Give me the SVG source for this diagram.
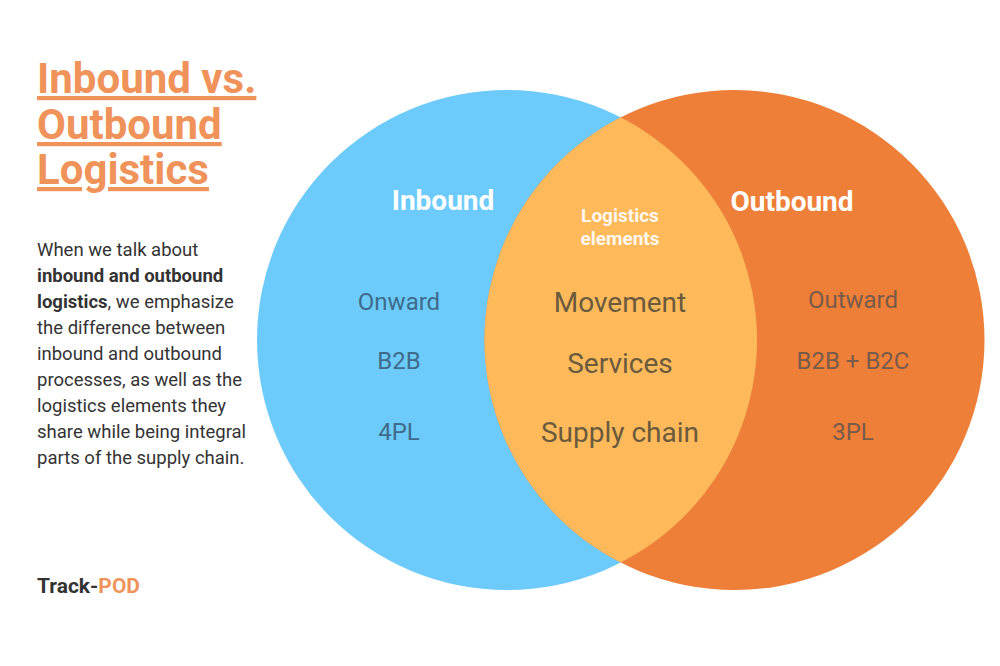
<svg xmlns="http://www.w3.org/2000/svg" width="1000" height="666" viewBox="0 0 1000 666">
<style>
text{font-family:Roboto,"Liberation Sans",sans-serif}
.title{font-size:42px;font-weight:700;fill:#F0935A;text-decoration:underline}
.body{font-size:18.5px;fill:#333}
.b{font-weight:700}
.head{font-size:28px;font-weight:700;fill:#fff;text-anchor:middle}
.sub{font-size:19px;font-weight:700;fill:#fff;text-anchor:middle;opacity:0.9}
.lbl{font-size:24px;text-anchor:middle}
.mid{font-size:28px;text-anchor:middle;fill:#6a5a3e}
</style>
<defs>
<clipPath id="lc"><circle cx="507" cy="340" r="250"/></clipPath>
</defs>
<rect width="1000" height="666" fill="#fff"/>
<g id="title">
<text class="title" x="37" y="93">Inbound vs.</text>
<text class="title" x="37" y="139">Outbound</text>
<text class="title" x="37" y="184">Logistics</text>
</g>
<g id="description" class="body">
<text x="37" y="256">When we talk about</text>
<text x="37" y="282" class="b">inbound and outbound</text>
<text x="37" y="308"><tspan class="b">logistics</tspan>, we emphasize</text>
<text x="37" y="334">the difference between</text>
<text x="37" y="360">inbound and outbound</text>
<text x="37" y="386">processes, as well as the</text>
<text x="37" y="412">logistics elements they</text>
<text x="37" y="438">share while being integral</text>
<text x="37" y="464">parts of the supply chain.</text>
</g>
<g id="brand">
<text x="37" y="593" style="font-size:21px;font-weight:700"><tspan fill="#333">Track-</tspan><tspan fill="#F0935A">POD</tspan></text>
</g>
<g id="inbound">
<circle cx="507" cy="340" r="250" fill="#6CCBFB"/>
<text class="head" x="443" y="210">Inbound</text>
<text class="lbl" x="399" y="310" fill="#3f6b8a">Onward</text>
<text class="lbl" x="399" y="369" fill="#3f6b8a">B2B</text>
<text class="lbl" x="399" y="440" fill="#3f6b8a">4PL</text>
</g>
<g id="outbound">
<circle cx="734.5" cy="340" r="250" fill="#EE7F38"/>
<text class="head" x="792" y="211">Outbound</text>
<text class="lbl" x="853" y="308" fill="#7a5a48">Outward</text>
<text class="lbl" x="853" y="369" fill="#7a5a48">B2B + B2C</text>
<text class="lbl" x="853" y="440" fill="#7a5a48">3PL</text>
</g>
<g id="intersection">
<circle cx="734.5" cy="340" r="250" fill="#FDB95A" clip-path="url(#lc)"/>
<text class="sub" x="620" y="222">Logistics</text>
<text class="sub" x="620" y="245">elements</text>
<text class="mid" x="620" y="312">Movement</text>
<text class="mid" x="620" y="373">Services</text>
<text class="mid" x="620" y="442">Supply chain</text>
</g>
<g id="connectors"></g>
</svg>
